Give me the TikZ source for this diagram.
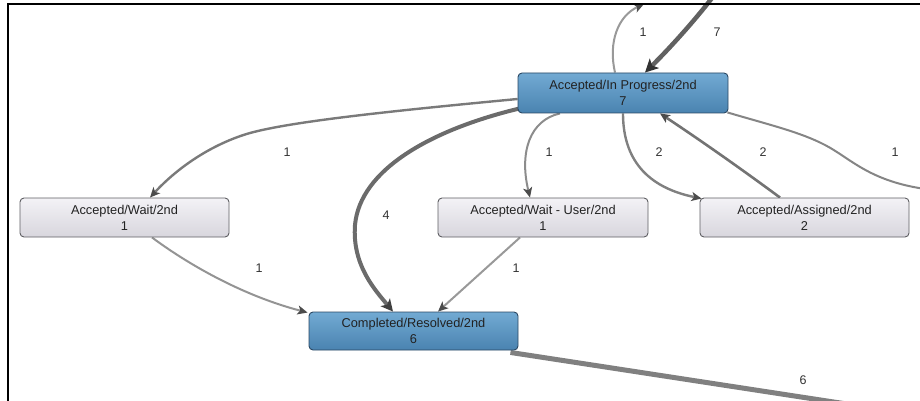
\documentclass[tikz,border=0pt]{standalone}
\usepackage{fontspec}
\setmainfont{Liberation Sans}
\usetikzlibrary{arrows.meta,calc}
\definecolor{bluetop}{HTML}{72AAD3}
\definecolor{bluebot}{HTML}{4A83B0}
\definecolor{blueline}{HTML}{2B4863}
\definecolor{graytop}{HTML}{F3F2F6}
\definecolor{graybot}{HTML}{D8D6DD}
\definecolor{grayline}{HTML}{5E5E62}
\definecolor{txt}{HTML}{222222}
\definecolor{lbl}{HTML}{333333}
\pgfdeclarelayer{bg}
\pgfsetlayers{bg,main}
\begin{document}
\begin{tikzpicture}[x=1pt,y=-1pt,
  statebase/.style={rectangle,rounded corners=4pt,line width=0.9pt,align=center,
    font=\fontsize{12.8}{16}\selectfont,text=txt,inner sep=0pt,
    minimum width=209pt,minimum height=39pt},
  bluestate/.style={statebase,draw=blueline,top color=bluetop,bottom color=bluebot},
  graystate/.style={statebase,draw=grayline,top color=graytop,bottom color=graybot},
  lab/.style={font=\fontsize{12.5}{14}\selectfont,text=lbl},
  conn/.style={line width=2pt,draw=#1,
    -{Stealth[length=10pt,width=9pt,inset=2.5pt,color=black!70]}},
  plain/.style={line width=2pt,draw=#1},
]
\useasboundingbox (0,0) rectangle (920,401);

\node[bluestate,minimum width=210pt,minimum height=40pt] (prog) at (623,93) {Accepted/In Progress/2nd\\7};
\node[graystate] (wait) at (124.5,217.5) {Accepted/Wait/2nd\\1};
\node[graystate,minimum width=210pt] (waitu) at (543,217.5) {Accepted/Wait - User/2nd\\1};
\node[graystate] (assg) at (804.5,217.5) {Accepted/Assigned/2nd\\2};
\node[bluestate,minimum height=38pt] (comp) at (413.5,331) {Completed/Resolved/2nd\\6};

\coordinate (outtop) at (644,4);
\coordinate (intop) at (712,-2);
\coordinate (outright) at (922,188.5);
\coordinate (outbot) at (850,404.5);

\begin{pgfonlayer}{bg}
% edge 1: leaving upwards
\draw[conn=black!40] ([xshift=-8pt]prog.north) .. controls (608,42) and (618,16) .. (outtop);
% edge 2: thick incoming from top
\draw[line width=4.5pt,draw=black!62,
  -{Stealth[length=13pt,width=13pt,inset=3pt,color=black!80]}]
  (intop) .. controls (695,20) and (670,48) .. ([xshift=22pt]prog.north);
% edge 3: to Wait
\draw[conn=black!52,line width=2.4pt] ([yshift=-6pt]prog.west) .. controls (380,112) and (290,122) .. (250,133)
  .. controls (215,143) and (180,165) .. ([xshift=25.5pt]wait.north);
% edge 4: thick to Completed
\draw[line width=4pt,draw=black!58,
  -{Stealth[length=12pt,width=12pt,inset=3pt,color=black!75]}]
  ([xshift=2pt,yshift=5pt]prog.south west) .. controls (430,130) and (360,170) .. (355,225)
  .. controls (352,265) and (375,290) .. ([xshift=-20.5pt]comp.north);
% edge 5: to Wait - User
\draw[conn=black!45] ([xshift=-63pt]prog.south) .. controls (530,120) and (519,152) .. ([xshift=-13pt]waitu.north);
% edge 6: to Assigned
\draw[conn=black!50,line width=2.4pt] (prog.south) .. controls (623,152) and (640,186) .. ([xshift=2pt,yshift=-1pt]assg.north west);
% edge 7: Assigned back to In Progress
\draw[conn=black!55,line width=2.6pt] ([xshift=-24.5pt]assg.north) .. controls (740,168) and (700,140) .. ([xshift=37pt]prog.south);
% edge 8: leaving right
\draw[plain=black!48] ([xshift=-1pt,yshift=1pt]prog.south east) .. controls (770,125) and (800,132) .. (825,145)
  .. controls (850,158) and (868,180) .. (outright);
% edge 9: Wait to Completed
\draw[conn=black!42] ([xshift=27.5pt]wait.south) .. controls (185,262) and (240,295) .. ([xshift=-1pt,yshift=-1pt]comp.north west);
% edge 10: Wait - User to Completed
\draw[conn=black!40] ([xshift=-23pt]waitu.south) -- ([xshift=24.5pt]comp.north);
% edge 11: thick leaving bottom right
\draw[line width=5pt,draw=black!50] ([xshift=-8pt,yshift=-2pt]comp.south east) -- (outbot);
\end{pgfonlayer}

\node[lab] (l1) at (643,32) {1};
\node[lab] (l7) at (717,32) {7};
\node[lab] (l3) at (287,152) {1};
\node[lab] (l4) at (386,215) {4};
\node[lab] (l5) at (549,152) {1};
\node[lab] (l6) at (659,152) {2};
\node[lab] (l2) at (763,152) {2};
\node[lab] (l8) at (895,152) {1};
\node[lab] (l9) at (259,268) {1};
\node[lab] (l10) at (516,268) {1};
\node[lab] (l11) at (803,380) {6};

\draw[line width=2.5pt,black] (8,402) -- (8,4) -- (921,4);
\end{tikzpicture}
\end{document}
